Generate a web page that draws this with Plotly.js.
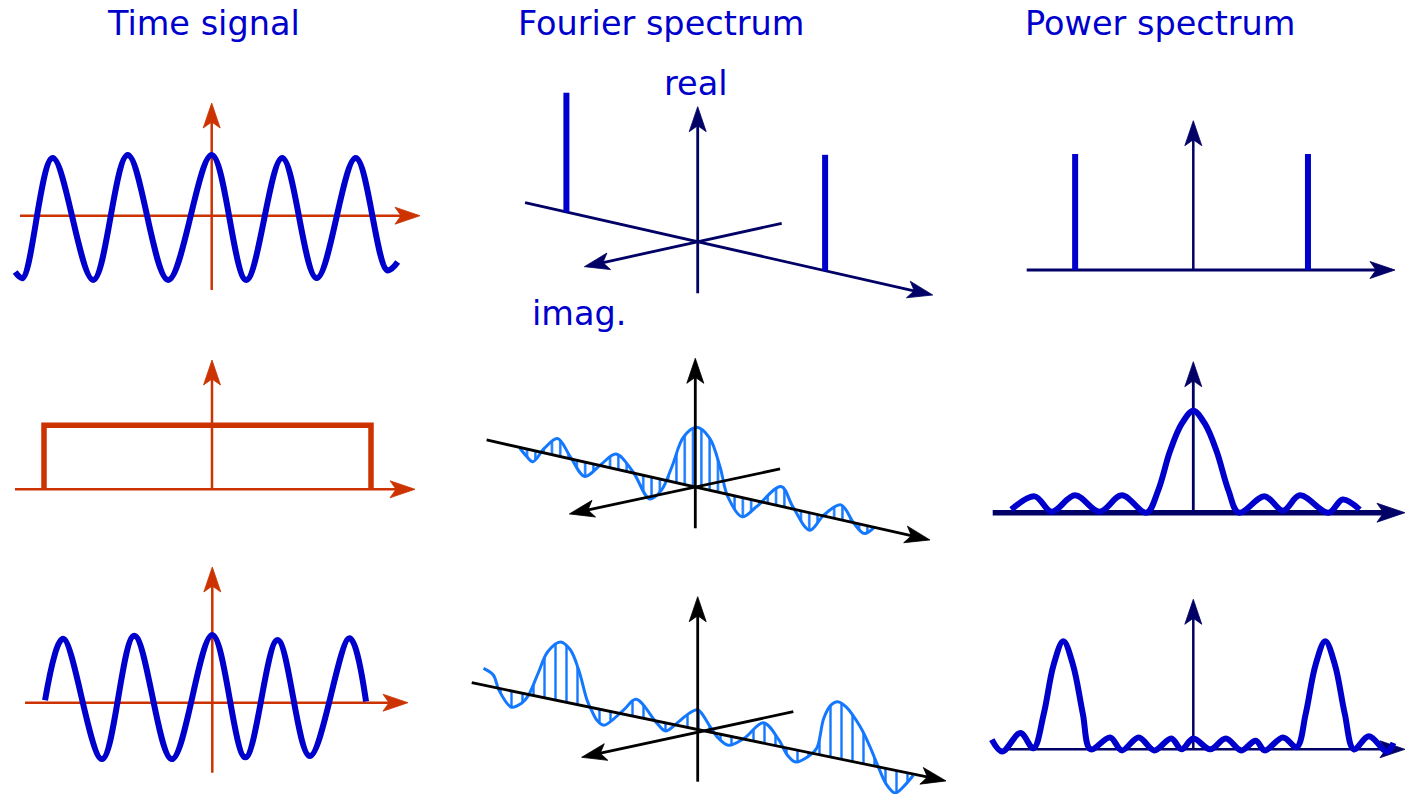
<!DOCTYPE html>
<html><head><meta charset="utf-8">
<script src="https://cdn.plot.ly/plotly-3.0.1.min.js"></script>
<style>html,body{margin:0;padding:0;background:#fff;overflow:hidden}#chart{width:1405px;height:794px}</style>
</head><body><div id="chart"></div>
<script>
// ================= DATA =================
const columnTitles = ['Time signal', 'Fourier spectrum', 'Power spectrum'];
const fourierAxisLabels = ['real', 'imag.'];

// Row 1 - cosine signal (t in signal periods, amplitude normalised); end points and extrema
const cosT = [-2.62, -2.52, -2.12, -1.58, -1.12, -0.58, 0, 0.46, 0.94, 1.40, 1.92, 2.34, 2.48];
const cosA = [-0.94, -1.04, 0.96, -1.07, 1.01, -1.07, 1.01, -1.07, 0.96, -1.04, 0.96, -0.91, -0.77];

// Row 2 - rectangular window
const rectT = [-2.24, -2.24, 2.12, 2.12];
const rectA = [0, 1, 1, 0];

// Row 3 - windowed cosine
const winT = [-2.23, -1.99, -1.47, -1.04, -0.54, 0, 0.44, 0.87, 1.30, 1.83, 2.05];
const winA = [0.04, 1.03, -0.91, 1.08, -0.91, 1.09, -0.88, 1.01, -0.86, 1.04, 0.02];

// Fourier spectra, real part (f in units of the signal frequency)
const ftCosF = [-1.01, 0.98];
const ftCosRe = [1.02, 0.99];

const ftRectF = [-1.35, -1.30, -1.25, -1.16, -1.06, -0.96, -0.85, -0.73, -0.61, -0.48, -0.35, -0.26, -0.18, -0.09, 0.01, 0.11, 0.19, 0.25, 0.36, 0.47, 0.66, 0.75, 0.88, 0.99, 1.12, 1.22, 1.30, 1.38];
const ftRectRe = [-0.01, -0.12, -0.19, 0.08, 0.29, 0.03, -0.24, 0.01, 0.25, 0.02, -0.37, -0.18, 0.25, 0.79, 1.0, 0.87, 0.43, -0.04, -0.32, -0.10, 0.33, 0.04, -0.29, 0.02, 0.25, -0.01, -0.14, 0.01];

const ftWinF = [-1.53, -1.46, -1.42, -1.33, -1.26, -1.21, -1.14, -1.07, -0.98, -0.91, -0.85, -0.79, -0.76, -0.72, -0.67, -0.53, -0.44, -0.29, -0.23, -0.15, -0.06, 0, 0.09, 0.15, 0.22, 0.33, 0.47, 0.58, 0.64, 0.70, 0.79, 0.85, 0.90, 0.95, 1.0, 1.06, 1.16, 1.23, 1.29, 1.35, 1.41, 1.48, 1.54];
const ftWinRe = [0.29, 0.21, -0.03, -0.28, -0.18, -0.02, 0.40, 0.81, 1.02, 0.92, 0.60, 0.11, -0.04, -0.20, -0.26, 0.07, 0.30, -0.04, -0.14, 0.03, 0.25, 0.34, 0.09, -0.08, -0.16, 0.01, 0.35, 0.11, -0.12, -0.21, -0.07, 0.10, 0.64, 0.89, 0.98, 0.92, 0.63, 0.32, 0.0, -0.28, -0.39, -0.22, -0.02];

// Power spectra
const psCosF = [-1.01, 0.98];
const psCosP = [1.0, 1.0];

const psRectF = [-1.40, -1.22, -1.09, -0.91, -0.72, -0.55, -0.36, -0.27, -0.18, -0.09, 0, 0.09, 0.18, 0.27, 0.35, 0.55, 0.69, 0.82, 1.04, 1.15, 1.28];
const psRectP = [0.03, 0.16, 0.01, 0.17, 0.01, 0.17, 0.0, 0.22, 0.60, 0.87, 1.0, 0.87, 0.60, 0.22, 0.0, 0.16, 0.02, 0.17, 0.0, 0.13, 0.03];

const psWinF = [-1.55, -1.47, -1.33, -1.23, -1.15, -1.075, -1.0, -0.925, -0.85, -0.79, -0.64, -0.55, -0.42, -0.30, -0.17, -0.09, 0, 0.13, 0.25, 0.37, 0.48, 0.55, 0.69, 0.795, 0.865, 0.94, 1.015, 1.09, 1.165, 1.235, 1.35, 1.49, 1.54];
const psWinP = [0.09, -0.02, 0.15, 0.01, 0.33, 0.78, 1.0, 0.78, 0.33, 0.0, 0.11, -0.01, 0.11, -0.01, 0.10, 0.0, 0.10, 0.0, 0.10, -0.01, 0.08, -0.01, 0.11, 0.02, 0.33, 0.78, 1.0, 0.78, 0.33, 0.0, 0.12, -0.02, 0.06];

// ================= LAYOUT / STYLE =================
const PAGE_W = 1405, PAGE_H = 794;
const BLUE = '#0000cc', ORANGE = '#cc3300', NAVY = '#000066', BLACK = '#000000', LIGHT = '#1478ff';

// each panel: page-pixel origin, pixels per data unit, axis extents in data units
const PANELS = [
  {ox:211.7, oy:215.7, sx:75, sy:60, h:[-2.556, 2.777], v:[-1.238, 1.878], col:ORANGE, hw:2.5, vw:2.5},
  {ox:212.0, oy:489.3, sx:75, sy:64, h:[-2.627, 2.707], v:[0, 2.02], col:ORANGE, hw:2.5, vw:2.5},
  {ox:212.3, oy:702.7, sx:75, sy:62, h:[-2.497, 2.609], v:[-1.129, 2.189], col:ORANGE, hw:2.5, vw:2.5},
  {ox:697.7, oy:241.8, sx:130, sy:117, tilt:0.2264, h:[-1.328, 1.808], imSlope:-0.2194, im:[-0.872, 0.646], imOff:0, v:[-0.44, 1.155], col:NAVY, hw:2.8, vw:2.8},
  {ox:695.3, oy:487.0, sx:130, sy:60, tilt:0.2256, h:[-1.605, 1.805], imSlope:-0.2136, im:[-0.969, 0.652], imOff:0, v:[-0.688, 2.145], col:BLACK, hw:2.8, vw:2.8, hatch:8.3, hatchFrom:0},
  {ox:697.7, oy:729.5, sx:140, sy:58, tilt:0.207, h:[-1.614, 1.774], imSlope:-0.2155, im:[-0.829, 0.683], imOff:-0.048, v:[-0.9, 2.29], col:BLACK, hw:2.8, vw:2.8, hatch:11, hatchFrom:2},
  {ox:1193.3, oy:270.0, sx:117, sy:116, h:[-1.424, 1.724], v:[0, 1.287], col:NAVY, hw:3, vw:2.5},
  {ox:1193.3, oy:512.7, sx:130, sy:102, h:[-1.543, 1.628], v:[0, 1.48], col:NAVY, hw:5.5, vw:2.8, bigHead:true},
  {ox:1193.3, oy:749.3, sx:130, sy:108, h:[-1.464, 1.628], v:[0, 1.389], col:NAVY, hw:2.5, vw:2.5},
];

const traces = [];
function sfx(i){ return i === 0 ? '' : String(i + 1); }
function add(i, tr){
  tr.xaxis = 'x' + sfx(i); tr.yaxis = 'y' + sfx(i);
  tr.hoverinfo = 'skip'; tr.showlegend = false;
  traces.push(tr);
}
function toPx(p, x, y){ return [p.ox + x * p.sx, p.oy - y * p.sy]; }
function toData(p, X, Y){ return [(X - p.ox) / p.sx, (p.oy - Y) / p.sy]; }
// point on an oblique (projected) axis
function proj(p, u, slope, off){ return [u, -slope * u * p.sx / p.sy + (off || 0)]; }

function arrow(i, a, b, color, width, L, Wd){
  const p = PANELS[i];
  const A = toPx(p, a[0], a[1]), B = toPx(p, b[0], b[1]);
  let dx = B[0] - A[0], dy = B[1] - A[1];
  const len = Math.hypot(dx, dy); dx /= len; dy /= len;
  const nx = -dy, ny = dx;
  const notch = 0.24 * L;
  const back = [B[0] - L * dx, B[1] - L * dy];
  const N = [B[0] - (L - notch) * dx, B[1] - (L - notch) * dy];
  const pts = [B, [back[0] + nx * Wd / 2, back[1] + ny * Wd / 2], N, [back[0] - nx * Wd / 2, back[1] - ny * Wd / 2], B]
    .map(q => toData(p, q[0], q[1]));
  const end = toData(p, N[0] + dx * 2, N[1] + dy * 2);
  add(i, {x:[a[0], end[0]], y:[a[1], end[1]], mode:'lines', line:{color:color, width:width}});
  add(i, {x:pts.map(q => q[0]), y:pts.map(q => q[1]), mode:'lines', fill:'toself', fillcolor:color, line:{color:color, width:0.8}});
}

const HEAD_L = 25, HEAD_W = 17;
function planeAxes(i){
  const p = PANELS[i];
  arrow(i, [p.h[0], 0], [p.h[1], 0], p.col, p.hw, p.bigHead ? 28 : HEAD_L, p.bigHead ? 19 : HEAD_W);
  arrow(i, [0, p.v[0]], [0, p.v[1]], p.col, p.vw, HEAD_L, HEAD_W);
}
function fourierAxes(i){
  const p = PANELS[i];
  arrow(i, proj(p, p.h[0], p.tilt), proj(p, p.h[1], p.tilt), p.col, p.hw, HEAD_L, HEAD_W);
  arrow(i, proj(p, p.im[1], p.imSlope, p.imOff), proj(p, p.im[0], p.imSlope, p.imOff), p.col, p.hw, HEAD_L, HEAD_W);
  arrow(i, [0, p.v[0]], [0, p.v[1]], p.col, p.vw, HEAD_L, HEAD_W);
}
function hatchedCurve(i, F, R){
  const p = PANELS[i];
  const k = p.tilt * p.sx / p.sy;
  const ys = F.map((f, j) => R[j] - k * f);
  const s = p.hatchFrom;
  const f0 = F[s], f1 = F[F.length - 1];
  add(i, {x:[f0, f1], y:[-k * f0, -k * f1], mode:'lines', line:{width:0, color:'rgba(0,0,0,0)'}});
  add(i, {x:F.slice(s), y:ys.slice(s), mode:'lines', line:{width:0, shape:'spline', smoothing:1, color:'rgba(0,0,0,0)'},
          fill:'tonexty', fillcolor:'rgba(0,0,0,0)',
          fillpattern:{shape:'|', size:p.hatch, solidity:2.4 / p.hatch, fgcolor:LIGHT, bgcolor:'rgba(0,0,0,0)', fgopacity:1}});
  add(i, {x:F, y:ys, mode:'lines', line:{width:3, shape:'spline', smoothing:1, color:LIGHT}});
}

// ---- column 1: time signals
planeAxes(0);
add(0, {x:cosT, y:cosA, mode:'lines', line:{color:BLUE, width:6, shape:'spline', smoothing:1}});
planeAxes(1);
add(1, {x:rectT, y:rectA, mode:'lines', line:{color:ORANGE, width:5.5}});
planeAxes(2);
add(2, {x:winT, y:winA, mode:'lines', line:{color:BLUE, width:6, shape:'spline', smoothing:1}});

// ---- column 2: Fourier spectra
fourierAxes(3);
(function(){
  const p = PANELS[3], k = p.tilt * p.sx / p.sy;
  const xs = [], ys = [];
  ftCosF.forEach((f, j) => { xs.push(f, f, null); ys.push(-k * f, ftCosRe[j] - k * f, null); });
  add(3, {x:xs, y:ys, mode:'lines', line:{color:BLUE, width:6}});
})();
hatchedCurve(4, ftRectF, ftRectRe);
fourierAxes(4);
hatchedCurve(5, ftWinF, ftWinRe);
fourierAxes(5);

// ---- column 3: power spectra
planeAxes(6);
(function(){
  const xs = [], ys = [];
  psCosF.forEach((f, j) => { xs.push(f, f, null); ys.push(0, psCosP[j], null); });
  add(6, {x:xs, y:ys, mode:'lines', line:{color:BLUE, width:6}});
})();
planeAxes(7);
add(7, {x:psRectF, y:psRectP, mode:'lines', line:{color:BLUE, width:6, shape:'spline', smoothing:1}});
planeAxes(8);
add(8, {x:psWinF, y:psWinP, mode:'lines', line:{color:BLUE, width:6, shape:'spline', smoothing:1}});

// ---- axes (one invisible cartesian system per panel, all spanning the page)
const layout = {
  width:PAGE_W, height:PAGE_H,
  margin:{l:0, r:0, t:0, b:0, pad:0},
  paper_bgcolor:'#ffffff', plot_bgcolor:'rgba(0,0,0,0)',
  showlegend:false, hovermode:false,
  annotations:[]
};
PANELS.forEach((p, i) => {
  layout['xaxis' + sfx(i)] = {domain:[0, 1], range:[(0 - p.ox) / p.sx, (PAGE_W - p.ox) / p.sx], visible:false, fixedrange:true, anchor:'y' + sfx(i)};
  layout['yaxis' + sfx(i)] = {domain:[0, 1], range:[(p.oy - PAGE_H) / p.sy, p.oy / p.sy], visible:false, fixedrange:true, anchor:'x' + sfx(i)};
});

const TEXT_FONT = {family:'DejaVu Sans, Liberation Sans, sans-serif', size:33.5, color:BLUE};
const titlePos = [[203.5, 23.6], [661, 23.6], [1160, 23.6]];
columnTitles.forEach((t, j) => layout.annotations.push({
  xref:'paper', yref:'paper', x:titlePos[j][0] / PAGE_W, y:1 - titlePos[j][1] / PAGE_H,
  text:t, showarrow:false, xanchor:'center', yanchor:'middle', font:TEXT_FONT}));
const labelPos = [[695, 83.6], [579, 313.6]];
fourierAxisLabels.forEach((t, j) => layout.annotations.push({
  xref:'paper', yref:'paper', x:labelPos[j][0] / PAGE_W, y:1 - labelPos[j][1] / PAGE_H,
  text:t, showarrow:false, xanchor:'center', yanchor:'middle', font:TEXT_FONT}));

Plotly.newPlot('chart', traces, layout, {staticPlot:true, displayModeBar:false});
</script>
</body></html>
